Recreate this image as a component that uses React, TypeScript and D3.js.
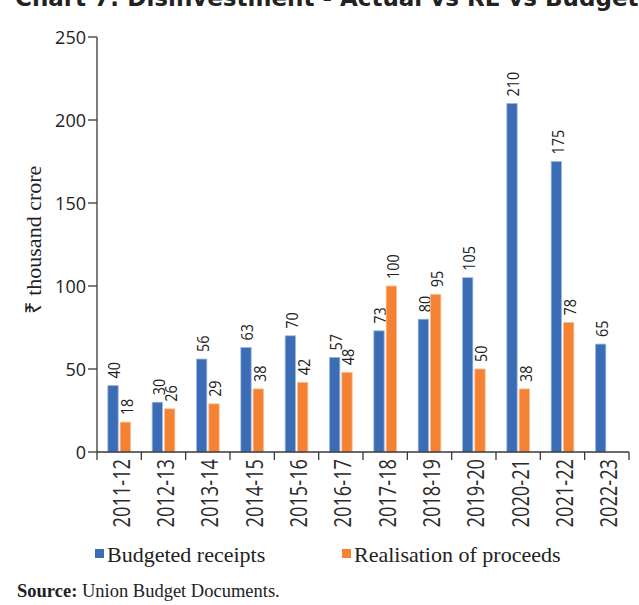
import React from "react";
import * as d3 from "d3";

const years = ["2011-12","2012-13","2013-14","2014-15","2015-16","2016-17","2017-18","2018-19","2019-20","2020-21","2021-22","2022-23"];
const budgeted: (number | null)[] = [40,30,56,63,70,57,73,80,105,210,175,65];
const realised: (number | null)[] = [18,26,29,38,42,48,100,95,50,38,78,null];
const yTicks = [0,50,100,150,200,250];
const seriesNames = ["Budgeted receipts","Realisation of proceeds"];
const seriesColors = ["#3A6DB5","#F48232"];
const seriesStroke = ["#9DB8E0","#F9BE94"];

const W = 639, H = 605;
const left = 97, right = 629, top = 37, bottom = 452;

export default function App() {
  const x = d3.scaleBand<string>().domain(years).range([left, right]).padding(0);
  const inner = d3.scaleBand<number>().domain([0, 1]).range([0, x.bandwidth()]).paddingInner(0.16).paddingOuter(0.88);
  const y = d3.scaleLinear().domain([0, 250]).range([bottom, top]);
  const series = [budgeted, realised];
  const sans = "'Open Sans', sans-serif";
  const serif = "'Liberation Serif', serif";
  const txt = "#222";
  const axisColor = "#3a3a3a";
  const boundaries = [...years.map(d => x(d)!), right];

  return (
    <svg width={W} height={H} style={{ position: "absolute", left: 0, top: 0, background: "#fff" }}>
      <text x={15} y={6} fontFamily="'DejaVu Sans', sans-serif" fontWeight="bold" fontSize={23} fill="#222">Chart 7: Disinvestment - Actual vs RE vs Budgeted</text>

      {series.map((vals, si) =>
        vals.map((v, i) => {
          if (v == null) return null;
          const bx = x(years[i])! + inner(si)!;
          const bw = inner.bandwidth();
          return (
            <g key={`${si}-${i}`}>
              <rect x={bx} y={y(v)} width={bw} height={bottom - y(v)} fill={seriesColors[si]} stroke={seriesStroke[si]} strokeWidth={0.8} />
              <text transform={`translate(${bx + bw / 2 + 1},${y(v) - 7}) rotate(-90) scale(0.9,1)`} dominantBaseline="central" fontFamily={sans} fontSize={16} fill={txt}>{v}</text>
            </g>
          );
        })
      )}

      {/* y axis */}
      <line x1={left} x2={left} y1={top} y2={bottom} stroke={axisColor} strokeWidth={1.3} />
      {yTicks.map(t => (
        <g key={t}>
          <line x1={left - 9} x2={left} y1={y(t)} y2={y(t)} stroke={axisColor} strokeWidth={1.3} />
          <text x={left - 11} y={y(t)} textAnchor="end" dominantBaseline="central" fontFamily={sans} fontSize={18} fill={txt}>{t}</text>
        </g>
      ))}
      <text transform={`translate(33,240) rotate(-90)`} textAnchor="middle" dominantBaseline="central" fontFamily={serif} fontSize={22} fill={txt}>₹ thousand crore</text>

      {/* x axis */}
      <line x1={left} x2={right} y1={bottom} y2={bottom} stroke={axisColor} strokeWidth={1.3} />
      {boundaries.map((b, i) => (
        <line key={i} x1={b} x2={b} y1={bottom} y2={bottom + 8} stroke={axisColor} strokeWidth={1.3} />
      ))}
      {years.map(d => (
        <text key={d} transform={`translate(${x(d)! + x.bandwidth() / 2 + 1},${bottom + 7}) rotate(-90) scale(0.76,1)`} textAnchor="end" dominantBaseline="central" fontFamily={sans} fontSize={24} fill="#2a2a2a">{d}</text>
      ))}

      {/* legend */}
      {seriesNames.map((n, i) => {
        const lx = i === 0 ? 95 : 342;
        return (
          <g key={n}>
            <rect x={lx} y={549} width={9} height={9} fill={seriesColors[i]} />
            <text x={lx + 12} y={554} dominantBaseline="central" fontFamily={serif} fontSize={22} fill={txt}>{n}</text>
          </g>
        );
      })}

      <text x={17} y={597} fontFamily={serif} fontSize={18.5} fill={txt}>
        <tspan fontWeight="bold">Source:</tspan> Union Budget Documents.
      </text>
    </svg>
  );
}
